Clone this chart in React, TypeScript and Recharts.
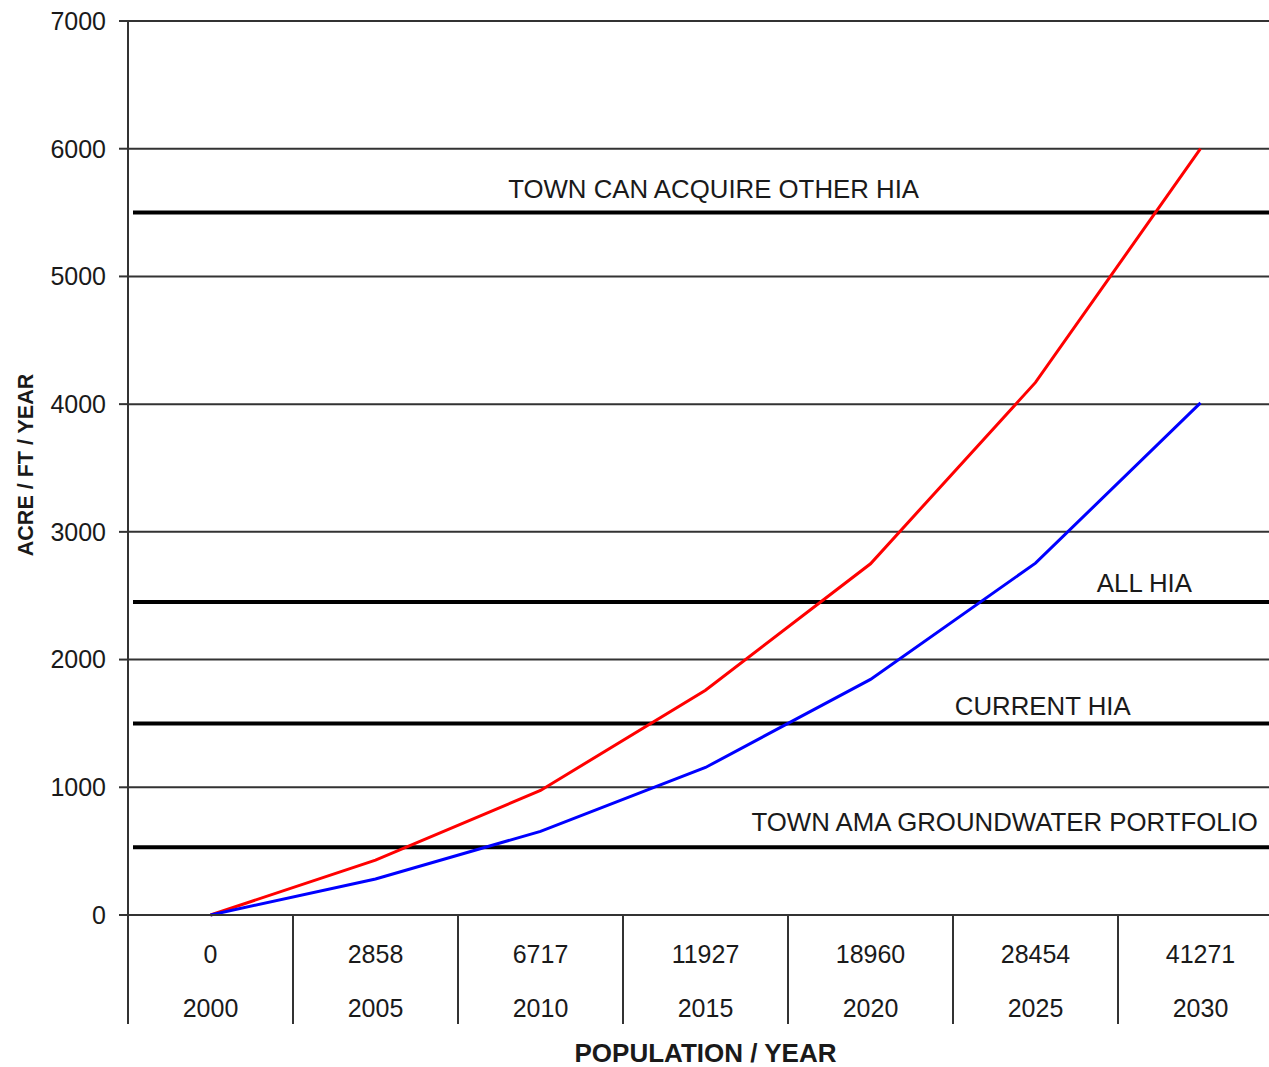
import { LineChart, Line, XAxis, YAxis, CartesianGrid, ReferenceLine, Label } from "recharts";

const years = ["2000", "2005", "2010", "2015", "2020", "2025", "2030"];
const population = ["0", "2858", "6717", "11927", "18960", "28454", "41271"];
const redDemand = [0, 430, 975, 1760, 2750, 4170, 6000];
const blueDemand = [0, 282, 655, 1155, 1845, 2755, 4010];
const yTicks = [0, 1000, 2000, 3000, 4000, 5000, 6000, 7000];

const limitNames = [
  "TOWN CAN ACQUIRE OTHER HIA",
  "ALL HIA",
  "CURRENT HIA",
  "TOWN AMA GROUNDWATER PORTFOLIO",
];
const limitValues = [5500, 2450, 1500, 530];

// where each limit label sits: fraction across the plot, gap above its line
const limitLabelPos = [
  { frac: 0.507, gap: 15 },
  { frac: 0.88, gap: 10 },
  { frac: 0.792, gap: 8 },
  { frac: 0.759, gap: 16 },
];

const FONT = "Arial, 'Liberation Sans', sans-serif";
const INK = "#1a1a1a";

const data = years.map((y, i) => ({
  year: y,
  pop: population[i],
  red: redDemand[i],
  blue: blueDemand[i],
}));

function XTick(props: any) {
  const { x, y, payload, index } = props;
  const half = payload.offset ?? 0;
  const pop = data[index]?.pop ?? "";
  return (
    <g>
      <line x1={x - half} y1={y} x2={x - half} y2={y + 109} stroke="#333" strokeWidth={2} />
      <text x={x} y={y + 48} textAnchor="middle" fontSize={25} fontFamily={FONT} fill={INK}>
        {pop}
      </text>
      <text x={x} y={y + 102} textAnchor="middle" fontSize={25} fontFamily={FONT} fill={INK}>
        {payload.value}
      </text>
    </g>
  );
}

function limitLabel(text: string, frac: number, gap: number) {
  return (props: any) => {
    const vb = props.viewBox || {};
    return (
      <text
        x={vb.x + vb.width * frac}
        y={vb.y - gap}
        textAnchor="middle"
        fontSize={25.8}
        fontFamily={FONT}
        fill={INK}
      >
        {text}
      </text>
    );
  };
}

function ThickLine(props: any) {
  const { x1, y1, x2, y2 } = props;
  return <line x1={x1 + 5} y1={y1} x2={x2} y2={y2} stroke="#000" strokeWidth={4} />;
}

export default function App() {
  return (
    <div
      style={{
        position: "absolute",
        left: 0,
        top: 0,
        width: 1269,
        height: 1067,
        overflow: "hidden",
        background: "#fff",
      }}
    >
      <LineChart
        width={1300}
        height={1067}
        data={data}
        margin={{ top: 21, right: 17, bottom: 0, left: 0 }}
      >
        <CartesianGrid vertical={false} stroke="#333" strokeWidth={2} />
        <XAxis
          dataKey="year"
          scale="band"
          height={152}
          axisLine={{ stroke: "#333", strokeWidth: 2 }}
          tickLine={false}
          tickSize={0}
          tickMargin={0}
          interval={0}
          tick={<XTick />}
        >
          <Label
            content={(p: any) => {
              const vb = p.viewBox || {};
              return (
                <text
                  x={vb.x + vb.width / 2}
                  y={1062}
                  textAnchor="middle"
                  fontSize={26}
                  fontWeight="bold"
                  fontFamily={FONT}
                  fill={INK}
                >
                  POPULATION / YEAR
                </text>
              );
            }}
          />
        </XAxis>
        <YAxis
          width={128}
          domain={[0, 7000]}
          ticks={yTicks}
          interval={0}
          axisLine={{ stroke: "#333", strokeWidth: 2 }}
          tickLine={{ stroke: "#333", strokeWidth: 2 }}
          tickSize={9}
          tickMargin={13}
          tick={{ fontSize: 25, fontFamily: FONT, fill: INK }}
        >
          <Label
            content={(p: any) => {
              const vb = p.viewBox || {};
              const cy = vb.y + vb.height / 2 - 3;
              return (
                <text
                  x={33}
                  y={cy}
                  transform={`rotate(-90 33 ${cy})`}
                  textAnchor="middle"
                  fontSize={21.5}
                  fontWeight="bold"
                  fontFamily={FONT}
                  fill={INK}
                >
                  ACRE / FT / YEAR
                </text>
              );
            }}
          />
        </YAxis>
        {limitValues.map((v, i) => (
          <ReferenceLine
            key={limitNames[i]}
            y={v}
            shape={<ThickLine />}
            label={limitLabel(limitNames[i], limitLabelPos[i].frac, limitLabelPos[i].gap)}
          />
        ))}
        <Line
          type="linear"
          dataKey="red"
          stroke="#ff0000"
          strokeWidth={3}
          dot={false}
          isAnimationActive={false}
        />
        <Line
          type="linear"
          dataKey="blue"
          stroke="#0000ff"
          strokeWidth={3}
          dot={false}
          isAnimationActive={false}
        />
      </LineChart>
    </div>
  );
}
